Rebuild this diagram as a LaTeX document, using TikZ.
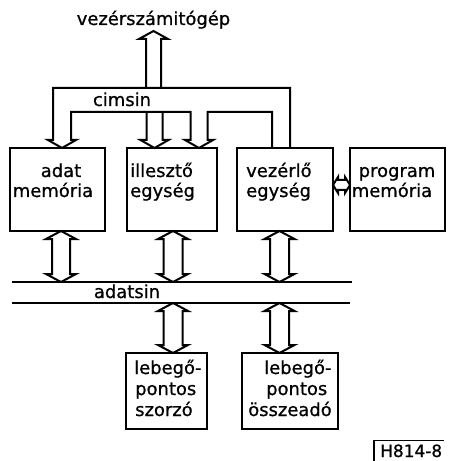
\documentclass[tikz,border=0pt]{standalone}
\usepackage{fontspec}
\setmainfont{DejaVu Sans}[BoldFont=DejaVu Sans, BoldFeatures={FakeBold=0.8}]
\usetikzlibrary{calc}
% vertical hollow double-headed arrow: #1 top tip, #2 bottom tip, #3 shaft half width, #4 head half width
\newcommand\dvarrow[4]{%
  \draw[hollow] (#1) -- ($(#1)+(-#4,8)$) -- ($(#1)+(-#3,8)$) -- ($(#2)+(-#3,-8)$)
    -- ($(#2)+(-#4,-8)$) -- (#2) -- ($(#2)+(#4,-8)$) -- ($(#2)+(#3,-8)$)
    -- ($(#1)+(#3,8)$) -- ($(#1)+(#4,8)$) -- cycle;}
\begin{document}
\begin{tikzpicture}[x=1bp,y=-1bp,
  box/.style={draw, line width=2.5bp, inner sep=0pt, outer sep=0pt, anchor=north west},
  txt/.style={inner sep=0pt, font=\fontsize{18}{20}\selectfont\bfseries},
  bus/.style={line width=2bp, line join=miter},
  hollow/.style={line width=2bp, line join=miter, fill=white}]
\useasboundingbox (0,0) rectangle (449,461);

% boxes
\node[box, minimum width=95bp, minimum height=83bp] (adat) at (10,148) {};
\node[box, minimum width=90bp, minimum height=83bp] (ill) at (127,148) {};
\node[box, minimum width=96bp, minimum height=83bp] (vez) at (237,148) {};
\node[box, minimum width=95bp, minimum height=83bp] (prog) at (350,148) {};
\node[box, minimum width=81bp, minimum height=76bp] (szor) at (126,353) {};
\node[box, minimum width=96bp, minimum height=76bp] (ossz) at (242,353) {};

% box texts
\node[txt, anchor=base] (tadat1) at (61,177) {adat};
\node[txt, anchor=base] (tadat2) at (53,197) {memória};
\node[txt, anchor=base west] (till1) at (130,177) {illesztő};
\node[txt, anchor=base west] (till2) at (130,197) {egység};
\node[txt, anchor=base west] (tvez1) at (246,177) {vezérlő};
\node[txt, anchor=base west] (tvez2) at (246,197) {egység};
\node[txt, anchor=base] (tprog1) at (397,177) {program};
\node[txt, anchor=base] (tprog2) at (392,197) {memória};
\node[txt, anchor=base west] (tsz1) at (134,374) {lebegő-};
\node[txt, anchor=base west] (tsz2) at (135,395) {pontos};
\node[txt, anchor=base west] (tsz3) at (135,416) {szorzó};
\node[txt, anchor=base west] (tos1) at (264,374) {lebegő-};
\node[txt, anchor=base west] (tos2) at (266,395) {pontos};
\node[txt, anchor=base] (tos3) at (290,416) {összeadó};

% bus labels and host
\node[txt, anchor=base] (host) at (153.5,25) {vezérszámitógép};
\node[txt, anchor=base] (cimsin) at (122,106) {cimsin};
\node[txt, anchor=base] (adatsin) at (127,298) {adatsin};

% adatsin lines
\coordinate (adL1) at (12,282);  \coordinate (adR1) at (352,282);
\coordinate (adL2) at (12,303);  \coordinate (adR2) at (350,303);
\draw[bus] (adL1) -- (adR1);
\draw[bus] (adL2) -- (adR2);

% box <-> adatsin arrows
\coordinate (a1t) at ($(adat.south)+(3.5,0)$);
\coordinate (a1b) at (a1t |- adL1);
\coordinate (a2t) at ($(ill.south)+(1,0)$);
\coordinate (a2b) at (a2t |- adL1);
\coordinate (a3t) at ($(vez.south)+(-5.5,0)$);
\coordinate (a3b) at (a3t |- adL1);
\coordinate (a4t) at (a2t |- adL2);
\coordinate (a4b) at (a2t |- szor.north);
\coordinate (a5t) at (a3t |- adL2);
\coordinate (a5b) at (a3t |- ossz.north);
\dvarrow{a1t}{a1b}{9}{15}
\dvarrow{a2t}{a2b}{9.5}{15}
\dvarrow{a3t}{a3b}{9.5}{15}
\dvarrow{a4t}{a4b}{9.5}{15}
\dvarrow{a5t}{a5b}{9.5}{15}

% cimsin bus
\coordinate (cA) at ($(adat.north)+(4.5,0)$);
\coordinate (cAa) at ($(ill.north)+(-17.5,0)$);
\coordinate (cB) at ($(ill.north)+(27,0)$);
\coordinate (cV) at ($(vez.north)+(-13,0)$);
\coordinate (cOut) at (290,88);
\draw[bus] (cA) -- ++(-14,-8) -- ++(5,0) |- (cOut) -- (cOut |- vez.north);
\draw[bus] (cA) -- ++(14,-8) -- ++(-5,0) |- ($(cB)+(-8.5,-36)$) -- ++(0,28) -- ++(-5.5,0)
  -- (cB) -- ++(14,-8) -- ++(-5.5,0) -- ++(0,-28) -| (cV);
\draw[bus] ($(cAa)+(-8,-36)$) -- ++(0,28) -- ++(-6,0) -- (cAa) -- ++(14,-8) -- ++(-6,0) -- ++(0,-28);

% host arrow
\coordinate (cH) at ($(host.base)+(0,6)$);
\draw[bus] ($(cH)+(-7.5,57)$) -- ++(0,-49) -- ++(-7,0) -- (cH) -- ++(14.5,8) -- ++(-7,0) -- ++(0,49);

% vezerlo <-> program memoria
\coordinate (hL) at ($(vez.east)+(0,-4.5)$);
\coordinate (hR) at ($(prog.west)+(0,-4.5)$);
\draw[hollow] (hL) -- ++(5,-8) -- ++(0,3) -- ($(hR)+(-5,-5)$) -- ++(0,-3) -- (hR)
  -- ++(-5,8) -- ++(0,-3) -- ($(hL)+(5,5)$) -- ++(0,3) -- cycle;

% figure code
\node[inner sep=0pt, anchor=base west, font=\fontsize{17}{19}\selectfont\bfseries] (code) at (380,457) {H814-8};
\coordinate (brk) at (374,461);
\draw[line width=1.2bp] (brk) |- ($(code.north east)+(2,-4)$);
\end{tikzpicture}
\end{document}
